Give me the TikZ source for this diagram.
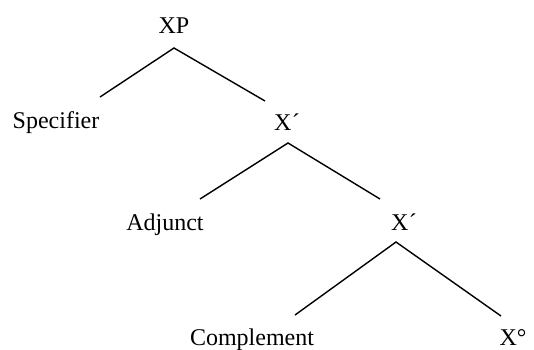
\documentclass[tikz,border=0pt]{standalone}
\usepackage{fontspec}
\setmainfont{Liberation Serif}
\begin{document}
\begin{tikzpicture}[x=1pt,y=-1pt,
  lab/.style={inner sep=0pt,anchor=base,font=\fontsize{24}{28}\selectfont},
  branch/.style={line width=1.4pt}]
\useasboundingbox (0,0) rectangle (534,349);
\node[lab] (xp) at (174,33) {XP};
\node[lab] (spec) at (56,128) {Specifier};
\node[lab] (xb1) at (287,130) {X\kern0.5pt´};
\node[lab] (adj) at (165,230) {Adjunct};
\node[lab] (xb2) at (404,230) {X\kern0.5pt´};
\node[lab] (comp) at (252,345) {Complement};
\node[lab] (x0) at (513,345) {X°};
\coordinate (xpA) at (174,48);
\coordinate (specE) at (100,97);
\coordinate (xb1E) at (265,101);
\coordinate (xb1A) at (288,143);
\coordinate (adjE) at (200,199);
\coordinate (xb2E) at (380,199);
\coordinate (xb2A) at (396,242);
\coordinate (compE) at (295,315);
\coordinate (x0E) at (501,316);
\draw[branch] (specE) -- (xpA) -- (xb1E);
\draw[branch] (adjE) -- (xb1A) -- (xb2E);
\draw[branch] (compE) -- (xb2A) -- (x0E);
\end{tikzpicture}
\end{document}
